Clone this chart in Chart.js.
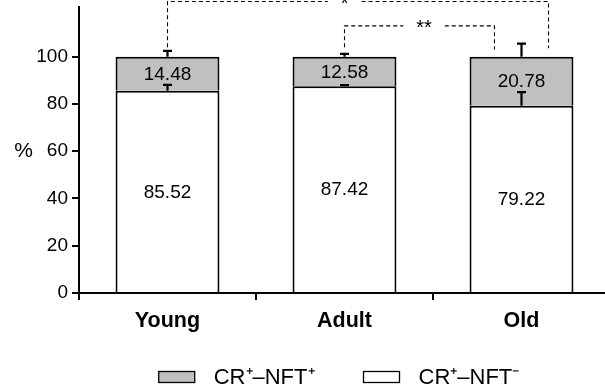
<!DOCTYPE html>
<html>
<head>
<meta charset="utf-8">
<style>
  html, body { margin: 0; padding: 0; background: #fff; overflow: hidden; }
  canvas { display: block; }
</style>
<script src="https://cdn.jsdelivr.net/npm/chart.js@4/dist/chart.umd.min.js"></script>
</head>
<body>
<canvas id="chart" width="615" height="388"></canvas>
<script>
// Age groups and the share (%) of CR+ cells with / without NFT
const categories = ['Young', 'Adult', 'Old'];
const nftNegative = [85.52, 87.42, 79.22];   // CR+–NFT−
const nftPositive = [14.48, 12.58, 20.78];   // CR+–NFT+
const errNegative = [2.5, 0.5, 5.8];          // SEM, CR+–NFT−
const errPositive = [2.4, 1.2, 5.5];          // SEM, CR+–NFT+
const yTicks = [0, 20, 40, 60, 80, 100];
const seriesLabels = ['CR\u207A\u2013NFT\u207A', 'CR\u207A\u2013NFT\u207B'];
// significant differences between groups (indices into categories)
const comparisons = [
  { a: 0, b: 2, label: '*' },
  { a: 1, b: 2, label: '**' }
];

const FONT = '"Liberation Sans", Arial, Helvetica, sans-serif';
const GREY = '#c0c0c0';

// Value written in the middle of every segment
const segmentLabels = {
  id: 'segmentLabels',
  afterDatasetsDraw(chart) {
    const ctx = chart.ctx;
    ctx.save();
    ctx.fillStyle = '#000';
    ctx.font = '19px ' + FONT;
    ctx.textAlign = 'center';
    ctx.textBaseline = 'middle';
    chart.data.datasets.forEach((ds, di) => {
      chart.getDatasetMeta(di).data.forEach((el, i) => {
        const p = el.getProps(['x', 'y', 'base'], true);
        ctx.fillText(ds.data[i].toFixed(2), p.x, (p.y + p.base) / 2 + 1);
      });
    });
    ctx.restore();
  }
};

// Upward error bars at the top of each segment
const errorBars = {
  id: 'errorBars',
  afterDatasetsDraw(chart) {
    const ctx = chart.ctx;
    const y = chart.scales.y;
    const errs = [errNegative, errPositive];
    ctx.save();
    ctx.strokeStyle = '#000';
    ctx.lineWidth = 2.2;
    chart.data.datasets.forEach((ds, di) => {
      chart.getDatasetMeta(di).data.forEach((el, i) => {
        const top = di === 0 ? nftNegative[i] : nftNegative[i] + nftPositive[i];
        const x = el.x;
        const y0 = y.getPixelForValue(top);
        const yEnd = y.getPixelForValue(top + errs[di][i]);
        ctx.beginPath();
        ctx.moveTo(x, y0);
        ctx.lineTo(x, yEnd);
        ctx.moveTo(x - 4.5, yEnd);
        ctx.lineTo(x + 4.5, yEnd);
        ctx.stroke();
      });
    });
    ctx.restore();
  }
};

// Dashed significance brackets
const brackets = {
  id: 'brackets',
  afterDraw(chart, args, opts) {
    const ctx = chart.ctx;
    const y = chart.scales.y;
    const meta = chart.getDatasetMeta(1);
    ctx.save();
    ctx.strokeStyle = '#000';
    ctx.fillStyle = '#000';
    ctx.lineWidth = 1.1;
    ctx.setLineDash([4, 3]);
    ctx.font = '20px ' + FONT;
    ctx.textAlign = 'center';
    ctx.textBaseline = 'middle';
    comparisons.forEach((c, k) => {
      const g = opts.geometry[k];
      const wa = meta.data[c.a].width, wb = meta.data[c.b].width;
      const xa = meta.data[c.a].x + g.offA * wa;
      const xb = meta.data[c.b].x + g.offB * wb;
      const yl = y.getPixelForValue(g.level);
      const ya = y.getPixelForValue(g.endA);
      const yb = y.getPixelForValue(g.endB);
      const tx = xa + g.at * (xb - xa);
      const half = ctx.measureText(c.label).width / 2 + 13;
      ctx.beginPath();
      ctx.moveTo(xa, ya);
      ctx.lineTo(xa, yl);
      ctx.lineTo(tx - half, yl);
      ctx.moveTo(tx + half, yl);
      ctx.lineTo(xb, yl);
      ctx.lineTo(xb, yb);
      ctx.stroke();
      ctx.fillText(c.label, tx, yl + g.dy);
    });
    ctx.restore();
  }
};

// "%" axis caption, horizontal
const axisCaption = {
  id: 'axisCaption',
  afterDraw(chart) {
    const ctx = chart.ctx;
    ctx.save();
    ctx.fillStyle = '#000';
    ctx.font = '21px ' + FONT;
    ctx.textAlign = 'center';
    ctx.textBaseline = 'middle';
    ctx.fillText('%', 23.5, chart.scales.y.getPixelForValue(60));
    ctx.restore();
  }
};

// Legend below the axis
const boxLegend = {
  id: 'boxLegend',
  afterDraw(chart) {
    const ctx = chart.ctx;
    const items = [1, 0].map((di, k) => ({
      label: seriesLabels[k],
      fill: chart.data.datasets[di].backgroundColor
    }));
    const boxW = 36, boxH = 11, textGap = 19, itemGap = 49;
    ctx.save();
    ctx.font = '22px ' + FONT;
    const widths = items.map(it => boxW + textGap + ctx.measureText(it.label).width);
    const total = widths.reduce((s, w) => s + w, 0) + itemGap * (items.length - 1);
    const ca = chart.chartArea;
    let x = (ca.left + ca.right) / 2 - 5.5 - total / 2;
    const yc = 377;
    items.forEach((it, k) => {
      ctx.fillStyle = it.fill;
      ctx.fillRect(x, yc - boxH / 2, boxW, boxH);
      ctx.strokeStyle = '#000';
      ctx.lineWidth = 1.3;
      ctx.strokeRect(x, yc - boxH / 2, boxW, boxH);
      ctx.fillStyle = '#000';
      ctx.textAlign = 'left';
      ctx.textBaseline = 'middle';
      ctx.fillText(it.label, x + boxW + textGap, yc + 1);
      x += widths[k] + itemGap;
    });
    ctx.restore();
  }
};

new Chart(document.getElementById('chart'), {
  type: 'bar',
  data: {
    labels: categories,
    datasets: [
      {
        label: seriesLabels[1],
        data: nftNegative,
        backgroundColor: '#ffffff',
        borderColor: '#000',
        borderWidth: 2,
        borderSkipped: 'start'
      },
      {
        label: seriesLabels[0],
        data: nftPositive,
        backgroundColor: GREY,
        borderColor: '#000',
        borderWidth: 2,
        borderSkipped: 'start'
      }
    ]
  },
  options: {
    responsive: false,
    animation: false,
    devicePixelRatio: 1,
    layout: { padding: { top: 7, right: 5, bottom: 0, left: 0 } },
    datasets: { bar: { categoryPercentage: 1, barPercentage: 0.587 } },
    plugins: {
      legend: { display: false },
      tooltip: { enabled: false },
      brackets: {
        geometry: [
          { offA: 0, offB: 0.26, level: 123.3, endA: 104, endB: 103.6, at: 0.465, dy: 3 },
          { offA: 0, offB: -0.26, level: 113, endA: 104, endB: 103, at: 0.53, dy: 3 }
        ]
      }
    },
    scales: {
      x: {
        stacked: true,
        offset: true,
        afterFit(s) { s.height = 95; s.paddingLeft = 0; s.paddingRight = 0; },
        grid: { offset: true, drawOnChartArea: false, drawTicks: true, tickLength: 7, color: '#000', lineWidth: 2 },
        border: { display: true, color: '#000', width: 2 },
        ticks: { color: '#000', padding: 8, font: { family: FONT, size: 21.5, weight: 'bold' } }
      },
      y: {
        stacked: true,
        min: 0,
        max: 121,
        afterBuildTicks(s) { s.ticks = yTicks.map(v => ({ value: v })); },
        afterFit(s) { s.width = 79; s.paddingTop = 0; s.paddingBottom = 0; },
        grid: { drawOnChartArea: false, drawTicks: true, tickLength: 7, color: '#000', lineWidth: 2 },
        border: { display: true, color: '#000', width: 2 },
        ticks: { color: '#000', padding: 4, font: { family: FONT, size: 19 } }
      }
    }
  },
  plugins: [segmentLabels, errorBars, brackets, axisCaption, boxLegend]
});
</script>
</body>
</html>
